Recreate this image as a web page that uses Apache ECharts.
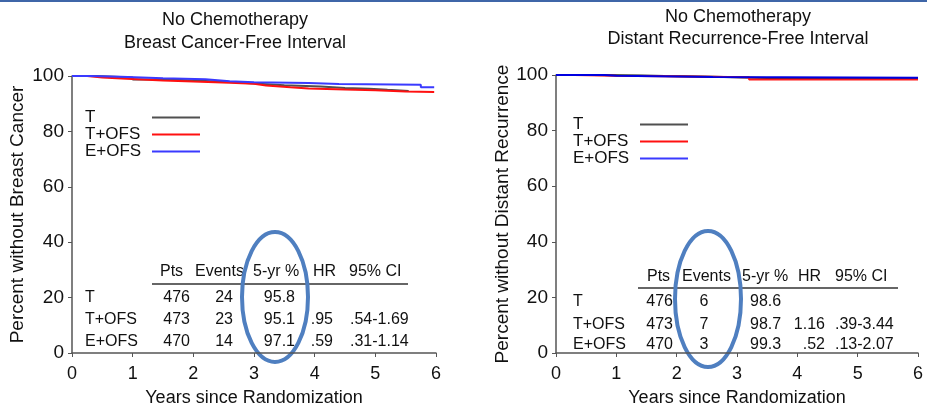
<!DOCTYPE html>
<html>
<head>
<meta charset="utf-8">
<script src="https://cdn.jsdelivr.net/npm/echarts@6/dist/echarts.min.js"></script>
<style>
  html, body { margin: 0; background: #fff; }
  #main { width: 927px; height: 412px; }
</style>
</head>
<body>
<div id="main"></div>
<script>
// axes
const years = [0, 1, 2, 3, 4, 5, 6];
const groups = ['T', 'T+OFS', 'E+OFS'];

// left panel: breast cancer-free interval, [year, percent]
const bcfiT = [[0, 100], [0.4, 99.5], [1.0, 98.7], [1.6, 98.2], [2.2, 97.8], [2.6, 97.3], [3.0, 96.7], [3.5, 96.2], [4.1, 95.7], [4.5, 95.4], [4.9, 95.0], [5.2, 94.6], [5.55, 94.4]];
const bcfiTOFS = [[0, 100], [0.25, 99.5], [0.5, 99.0], [0.9, 98.4], [1.5, 98.0], [2.0, 97.6], [2.6, 97.2], [3.0, 96.6], [3.2, 95.9], [3.6, 95.5], [3.9, 95.1], [4.5, 94.9], [5.0, 94.4], [5.5, 94.2], [5.97, 94.1]];
const bcfiEOFS = [[0, 100], [0.3, 99.7], [0.8, 99.2], [1.5, 98.8], [2.2, 98.1], [2.6, 97.7], [3.0, 97.5], [3.9, 97.1], [4.4, 96.8], [5.75, 95.9], [5.97, 95.9]];

// right panel: distant recurrence-free interval
const drfiT = [[0, 100], [0.6, 99.8], [1.4, 99.6], [1.8, 99.4], [2.6, 98.9], [3.5, 98.7], [6.0, 98.7]];
const drfiTOFS = [[0, 100], [0.3, 99.7], [1.0, 99.5], [2.2, 99.2], [3.2, 98.4], [6.0, 98.3]];
const drfiEOFS = [[0, 100], [0.8, 99.7], [1.0, 99.5], [2.0, 99.3], [2.6, 99.0], [6.0, 99.0]];

// tables
const tableHead = ['Pts', 'Events', '5-yr %', 'HR', '95% CI'];
const pts = ['476', '473', '470'];
const bcfiEvents = ['24', '23', '14'];
const bcfi5yr = ['95.8', '95.1', '97.1'];
const bcfiHR = ['', '.95', '.59'];
const bcfiCI = ['', '.54-1.69', '.31-1.14'];
const drfiEvents = ['6', '7', '3'];
const drfi5yr = ['98.6', '98.7', '99.3'];
const drfiHR = ['', '1.16', '.52'];
const drfiCI = ['', '.39-3.44', '.13-2.07'];

const FONT = 'Liberation Sans, Arial, sans-serif';
const colLeft = ['#505050', '#ff1010', '#3a3aff'];
const colRight = ['#202020', '#ff1a1a', '#0000e0'];

function txt(x, y, s, align, size) {
    return {
        type: 'text', x: x, y: y,
        style: { text: s, fontSize: size || 16, fontFamily: FONT, fill: '#111', align: align || 'left', verticalAlign: 'middle' }
    };
}

// builds the summary table from the arrays
function table(opt) {
    let out = [];
    tableHead.forEach((h, i) => out.push(txt(opt.head[i], opt.headY, h)));
    out.push({
        type: 'line',
        shape: { x1: opt.rule[0], y1: opt.ruleY, x2: opt.rule[1], y2: opt.ruleY },
        style: { stroke: '#333', lineWidth: 1.5 }
    });
    groups.forEach((g, r) => {
        let y = opt.rows[r];
        out.push(txt(opt.labelX, y, g));
        opt.cols.forEach((c, k) => {
            out.push(txt(c[0], y, opt.data[k][r], c[1]));
        });
    });
    return out;
}

const leftTable = table({
    head: [160, 195, 253, 313, 349], headY: 272,
    rule: [152, 408], ruleY: 284,
    rows: [298, 320, 342], labelX: 85,
    cols: [[190, 'right'], [233, 'right'], [295, 'right'], [333, 'right'], [350, 'left']],
    data: [pts, bcfiEvents, bcfi5yr, bcfiHR, bcfiCI]
});
const rightTable = table({
    head: [647, 682, 742, 798, 835], headY: 277,
    rule: [638, 898], ruleY: 288,
    rows: [302, 325, 345], labelX: 573,
    cols: [[673, 'right'], [704, 'center'], [750, 'left'], [825, 'right'], [835, 'left']],
    data: [pts, drfiEvents, drfi5yr, drfiHR, drfiCI]
});

function xAx(idx) {
    return {
        type: 'value', gridIndex: idx, min: 0, max: 6, interval: 1, offset: 6,
        name: 'Years since Randomization', nameLocation: 'middle', nameGap: 30,
        nameTextStyle: { fontSize: 18, fontFamily: FONT, color: '#111' },
        axisLine: { show: true, lineStyle: { color: '#555', width: 1.5 } },
        axisTick: { show: true, length: 4, lineStyle: { color: '#555' } },
        axisLabel: { fontSize: 18, fontFamily: FONT, color: '#111', margin: 6 },
        splitLine: { show: false }
    };
}
function yAx(idx, name, gap) {
    return {
        type: 'value', gridIndex: idx, min: 0, max: 100, interval: 20, offset: 1,
        name: name, nameLocation: 'middle', nameGap: gap,
        nameTextStyle: { fontSize: 19, fontFamily: FONT, color: '#111' },
        axisLine: { show: true, lineStyle: { color: '#555', width: 1.5 } },
        axisTick: { show: true, length: 4, lineStyle: { color: '#555' } },
        axisLabel: { fontSize: 19, fontFamily: FONT, color: '#111', margin: 7 },
        splitLine: { show: false }
    };
}
function km(name, data, idx, color) {
    return {
        name: name, type: 'line', step: 'end', xAxisIndex: idx, yAxisIndex: idx,
        data: data, showSymbol: false, symbol: 'none', color: color,
        lineStyle: { width: 2, color: color }, silent: true, animation: false
    };
}
function legend(left, top, lh) {
    return {
        orient: 'vertical', left: left, top: top, align: 'right', padding: 0,
        icon: 'rect', itemWidth: 48, itemHeight: 2, itemGap: 0, selectedMode: false,
        formatter: '{a|{name}}',
        textStyle: { rich: { a: { width: 62, fontSize: 17, lineHeight: lh, fontFamily: FONT, color: '#111', align: 'left' } } },
        data: groups
    };
}

const chart = echarts.init(document.getElementById('main'));
chart.setOption({
    animation: false,
    title: [
        { text: 'No Chemotherapy\nBreast Cancer-Free Interval', left: 235, top: 9, padding: 0, textAlign: 'center',
          textStyle: { fontSize: 18, fontWeight: 'normal', lineHeight: 23, fontFamily: FONT, color: '#111' } },
        { text: 'No Chemotherapy\nDistant Recurrence-Free Interval', left: 738, top: 6, padding: 0, textAlign: 'center',
          textStyle: { fontSize: 18, fontWeight: 'normal', lineHeight: 22, fontFamily: FONT, color: '#111' } }
    ],
    legend: [legend(85, 109, 18), legend(573, 116, 17)],
    grid: [
        { left: 72, right: 491, top: 76, bottom: 56 },
        { left: 556, right: 9, top: 75, bottom: 55 }
    ],
    xAxis: [xAx(0), xAx(1)],
    yAxis: [yAx(0, 'Percent without Breast Cancer', 44), yAx(1, 'Percent without Distant Recurrence', 40)],
    series: [
        km('T', bcfiT, 0, colLeft[0]),
        km('T+OFS', bcfiTOFS, 0, colLeft[1]),
        km('E+OFS', bcfiEOFS, 0, colLeft[2]),
        km('T', drfiT, 1, colRight[0]),
        km('T+OFS', drfiTOFS, 1, colRight[1]),
        km('E+OFS', drfiEOFS, 1, colRight[2])
    ],
    graphic: [
        { type: 'rect', shape: { x: 0, y: 0, width: 927, height: 2 }, style: { fill: '#3f66a8' } },
        ...leftTable,
        ...rightTable,
        { type: 'ellipse', shape: { cx: 275, cy: 297, rx: 33, ry: 65 }, style: { fill: 'none', stroke: '#4f7fc0', lineWidth: 4 } },
        { type: 'ellipse', shape: { cx: 708, cy: 299, rx: 33, ry: 68 }, style: { fill: 'none', stroke: '#4f7fc0', lineWidth: 4 } }
    ]
});
</script>
</body>
</html>
